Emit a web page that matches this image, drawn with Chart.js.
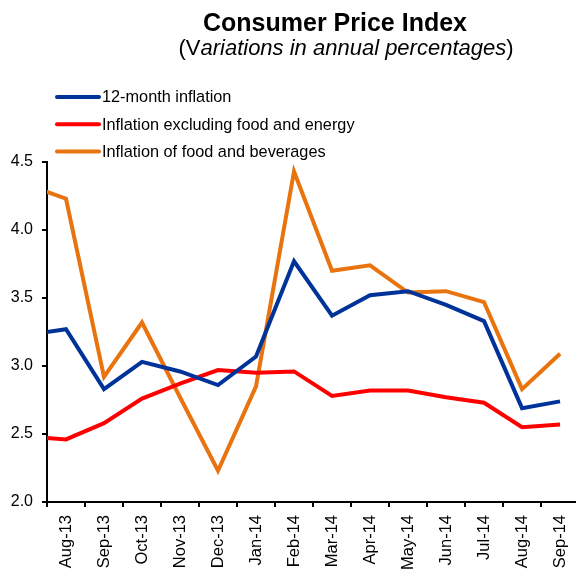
<!DOCTYPE html>
<html>
<head>
<meta charset="utf-8">
<script src="https://cdn.jsdelivr.net/npm/chart.js@4/dist/chart.umd.min.js"></script>
<style>
html,body{margin:0;padding:0;background:#fff;overflow:hidden}
#wrap{width:576px;height:569px;position:relative}
</style>
</head>
<body>
<div id="wrap"><canvas id="c" width="576" height="569"></canvas></div>
<script>
// Jul-13 lies just left of the visible axis; only its connecting segment shows.
const categories = ['Jul-13','Aug-13','Sep-13','Oct-13','Nov-13','Dec-13','Jan-14','Feb-14','Mar-14','Apr-14','May-14','Jun-14','Jul-14','Aug-14','Sep-14'];
const inflation12 = [3.23, 3.27, 2.83, 3.03, 2.96, 2.86, 3.07, 3.77, 3.37, 3.52, 3.55, 3.45, 3.33, 2.69, 2.74];
const inflationCore = [2.48, 2.46, 2.58, 2.76, 2.87, 2.97, 2.95, 2.96, 2.78, 2.82, 2.82, 2.77, 2.73, 2.55, 2.57];
const inflationFood = [4.33, 4.23, 2.92, 3.32, 2.77, 2.23, 2.85, 4.43, 3.70, 3.74, 3.54, 3.55, 3.47, 2.83, 3.09];
const seriesLabels = ['12-month inflation', 'Inflation excluding food and energy', 'Inflation of food and beverages'];
const seriesColors = ['#003399', '#ff0000', '#e8730f'];
const yTicks = [2.0, 2.5, 3.0, 3.5, 4.0, 4.5];
const titleText = 'Consumer Price Index';
const subtitleParts = [['(V', 'normal'], ['ariations in annual percentages', 'italic'], [')', 'normal']];

const FONT = '"Liberation Sans", Arial, sans-serif';
const seriesValues = [inflation12, inflationCore, inflationFood];

const datasets = seriesValues.map((vals, s) => ({
  label: seriesLabels[s],
  data: vals.map((v, i) => ({x: i, y: v})),
  borderColor: seriesColors[s],
  backgroundColor: seriesColors[s],
  borderWidth: 4,
  pointRadius: 0,
  tension: 0,
  fill: false,
  clip: {left: 0, top: false, right: false, bottom: false}
}));

const decor = {
  id: 'decor',
  afterDraw(chart) {
    const ctx = chart.ctx;
    ctx.save();
    ctx.fillStyle = '#000';
    ctx.textBaseline = 'alphabetic';
    ctx.textAlign = 'center';
    ctx.font = 'bold 25px ' + FONT;
    ctx.fillText(titleText, 335, 31);
    // subtitle with mixed styles
    const size = 22;
    let total = 0;
    const widths = subtitleParts.map(([t, st]) => {
      ctx.font = st + ' ' + size + 'px ' + FONT;
      const w = ctx.measureText(t).width; total += w; return w;
    });
    let x = 346 - total / 2;
    ctx.textAlign = 'left';
    subtitleParts.forEach(([t, st], i) => {
      ctx.font = st + ' ' + size + 'px ' + FONT;
      ctx.fillText(t, x, 55);
      x += widths[i];
    });
    // legend
    chart.data.datasets.forEach((ds, i) => {
      const y = 97 + i * 27.3;
      ctx.strokeStyle = ds.borderColor;
      ctx.lineWidth = 4;
      ctx.lineCap = 'round';
      ctx.beginPath();
      ctx.moveTo(57, y);
      ctx.lineTo(99, y);
      ctx.stroke();
      ctx.font = '16.3px ' + FONT;
      ctx.textBaseline = 'middle';
      ctx.fillStyle = '#000';
      ctx.fillText(ds.label, 102, y + 1);
    });
    ctx.restore();
  }
};

new Chart(document.getElementById('c'), {
  type: 'line',
  data: {datasets},
  options: {
    responsive: false,
    animation: false,
    events: [],
    layout: {padding: {top: 162, left: 0, right: 0, bottom: 0}},
    plugins: {legend: {display: false}, title: {display: false}, tooltip: {enabled: false}},
    scales: {
      x: {
        type: 'linear',
        min: 0.5,
        max: 14.42,
        afterBuildTicks: s => { s.ticks = categories.map((c, i) => ({value: i})).filter(t => t.value >= 1); },
        afterFit: s => { s.height = 67; s.paddingLeft = 0; s.paddingRight = 0; },
        ticks: {
          autoSkip: false, minRotation: 90, maxRotation: 90, padding: 8, color: '#000',
          font: {family: FONT, size: 16.5},
          callback: v => categories[v]
        },
        grid: {offset: true, drawOnChartArea: false, drawTicks: true, tickLength: 5, color: '#000', lineWidth: 2},
        border: {display: true, color: '#000', width: 2}
      },
      y: {
        min: 2, max: 4.5,
        afterBuildTicks: s => { s.ticks = yTicks.map(v => ({value: v})); },
        afterFit: s => { s.width = 47; s.paddingTop = 0; s.paddingBottom = 0; },
        ticks: {padding: 9, color: '#000', font: {family: FONT, size: 16}, callback: v => v.toFixed(1)},
        grid: {drawOnChartArea: false, drawTicks: true, tickLength: 5, color: '#000', lineWidth: 2},
        border: {display: true, color: '#000', width: 2}
      }
    }
  },
  plugins: [decor]
});
</script>
</body>
</html>
